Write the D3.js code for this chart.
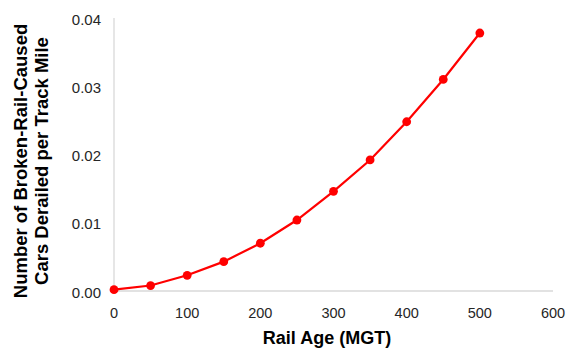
<!DOCTYPE html>
<html><head><meta charset="utf-8">
<script src="https://cdn.jsdelivr.net/npm/d3@7"></script>
<style>body{margin:0;background:#fff}svg{display:block;font-family:"Liberation Sans",Arial,sans-serif}</style>
</head><body><svg id="c" width="566" height="352"></svg>
<script>
const railAge = [0,50,100,150,200,250,300,350,400,450,500];
const derailed = [0.0002,0.0008,0.0023,0.0043,0.0070,0.0104,0.0146,0.0192,0.0248,0.0310,0.0378];
const xTicks = [0,100,200,300,400,500,600];
const yTicks = [0,0.01,0.02,0.03,0.04];
const xTitle = "Rail Age (MGT)";
const yTitle = ["Number of Broken-Rail-Caused","Cars Derailed per Track Mile"];

const svg = d3.select("#c");
const x = d3.scaleLinear().domain([0,600]).range([114,553]);
const y = d3.scaleLinear().domain([0,0.04]).range([291,18]);

svg.append("line").attr("x1",x(0)).attr("x2",x(0)).attr("y1",y(0.04)).attr("y2",y(0)).attr("stroke","#d9d9d9").attr("stroke-width",1.3);
svg.append("line").attr("x1",x(0)).attr("x2",x(600)).attr("y1",y(0)).attr("y2",y(0)).attr("stroke","#d9d9d9").attr("stroke-width",1.3);

svg.selectAll(".yt").data(yTicks).join("text").attr("x",101).attr("y",d=>y(d)+6.5)
  .attr("text-anchor","end").attr("font-size",15).attr("fill","#262626").text(d=>d3.format(".2f")(d));
svg.selectAll(".xt").data(xTicks).join("text").attr("x",d=>x(d)).attr("y",318)
  .attr("text-anchor","middle").attr("font-size",14.5).attr("fill","#262626").text(d=>d);

const line = d3.line().x((d,i)=>x(railAge[i])).y(d=>y(d));
svg.append("path").datum(derailed).attr("d",line).attr("fill","none").attr("stroke","#ff0000").attr("stroke-width",2.2);
svg.selectAll(".pt").data(derailed).join("circle").attr("cx",(d,i)=>x(railAge[i])).attr("cy",d=>y(d)).attr("r",4.4).attr("fill","#ff0000");

svg.append("text").attr("x",327).attr("y",344).attr("text-anchor","middle")
  .attr("font-size",18).attr("font-weight","bold").attr("fill","#000").text(xTitle);
const yt = svg.append("text").attr("transform","translate(0,161) rotate(-90)").attr("text-anchor","middle")
  .attr("font-size",18.5).attr("font-weight","bold").attr("fill","#000");
yt.selectAll("tspan").data(yTitle).join("tspan").attr("x",0).attr("y",(d,i)=>27+i*21).text(d=>d);
</script></body></html>
